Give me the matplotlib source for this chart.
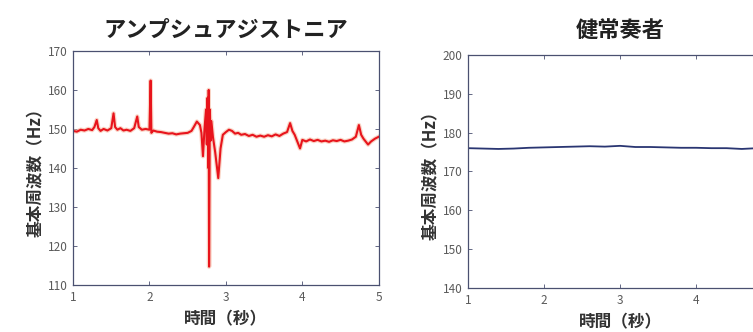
import matplotlib
matplotlib.use("Agg")
import matplotlib.pyplot as plt

plt.rcParams['font.family'] = ['Noto Sans CJK JP', 'DejaVu Sans']

# dystonia player: fundamental frequency over time
t_dys = [1.00, 1.05, 1.10, 1.15, 1.20, 1.25, 1.28, 1.31, 1.33, 1.36, 1.40, 1.45,
         1.50, 1.53, 1.55, 1.58, 1.62, 1.66, 1.70, 1.75, 1.80, 1.84, 1.86, 1.90,
         1.95, 2.00, 2.015, 2.025, 2.05, 2.10, 2.15, 2.20, 2.25, 2.30, 2.35, 2.40,
         2.45, 2.50, 2.55, 2.58, 2.62, 2.66, 2.68, 2.70, 2.72, 2.74, 2.75, 2.76,
         2.77, 2.775, 2.78, 2.79, 2.80, 2.81, 2.83, 2.86, 2.90, 2.93, 2.96, 3.00,
         3.04, 3.08, 3.12, 3.16, 3.20, 3.25, 3.30, 3.35, 3.40, 3.45, 3.50, 3.55,
         3.60, 3.65, 3.70, 3.75, 3.80, 3.84, 3.87, 3.90, 3.93, 3.97, 4.00, 4.05,
         4.10, 4.15, 4.20, 4.25, 4.30, 4.35, 4.40, 4.45, 4.50, 4.55, 4.60, 4.65,
         4.70, 4.74, 4.77, 4.80, 4.86, 4.90, 4.95, 5.00]
f_dys = [149.5, 149.3, 149.8, 149.6, 150.0, 149.7, 150.5, 152.3, 150.2, 149.5, 150.0, 149.6,
         150.2, 154.0, 150.5, 149.8, 150.2, 149.6, 149.8, 149.5, 150.2, 153.2, 150.5, 149.8,
         150.0, 149.8, 162.4, 149.0, 149.6, 149.3, 149.2, 149.0, 148.8, 148.9, 148.6, 148.8,
         148.9, 149.0, 149.5, 150.5, 151.9, 151.0, 149.0, 143.0, 150.0, 155.0, 146.0, 158.0,
         140.0, 160.0, 114.7, 155.0, 147.0, 152.0, 148.0, 144.0, 137.4, 145.0, 148.5, 149.2,
         149.8, 149.5, 148.8, 149.0, 148.5, 148.7, 148.2, 148.5, 148.0, 148.3, 148.0, 148.4,
         148.1, 148.6, 148.2, 148.8, 149.2, 151.5, 149.5, 148.5, 147.0, 145.0, 147.2, 146.8,
         147.3, 146.9, 147.2, 146.8, 147.0, 146.7, 147.1, 146.9, 147.2, 146.8, 147.0, 147.3,
         148.0, 151.0, 148.5, 147.5, 146.0, 146.8, 147.5, 148.0]

# healthy player
t_hea = [1.0, 1.2, 1.4, 1.6, 1.8, 2.0, 2.2, 2.4, 2.6, 2.8, 3.0, 3.2, 3.4, 3.6,
         3.8, 4.0, 4.2, 4.4, 4.6, 4.8, 5.0]
f_hea = [176.0, 175.9, 175.8, 175.9, 176.1, 176.2, 176.3, 176.4, 176.5, 176.4, 176.6,
         176.3, 176.3, 176.2, 176.1, 176.1, 176.0, 176.0, 175.8, 176.0, 176.1]

titles = ['アンプシュアジストニア', '健常奏者']
xlabel = '時間（秒）'
ylabel = '基本周波数（Hz）'
xticks_l = [1, 2, 3, 4, 5]
xticks_r = [1, 2, 3, 4]   # the 5 falls outside the picture
yticks_l = [110, 120, 130, 140, 150, 160, 170]
yticks_r = [140, 150, 160, 170, 180, 190, 200]

fig = plt.figure(figsize=(7.53, 3.32), dpi=100)
ax1 = fig.add_axes([0.097, 0.1416, 0.406, 0.705])
ax2 = fig.add_axes([0.6215, 0.1325, 0.404, 0.702])

ax1.plot(t_dys, f_dys, color='#f6b8a0', linewidth=3.2, alpha=0.6)
ax1.plot(t_dys, f_dys, color='#e8141c', linewidth=1.5)
ax1.set_ylim(110, 170)
ax1.set_yticks(yticks_l)
ax1.set_xticks(xticks_l)

ax2.plot(t_hea, f_hea, color='#2a3672', linewidth=1.3)
ax2.set_ylim(140, 200)
ax2.set_yticks(yticks_r)
ax2.set_xticks(xticks_r)

for ax, title, pad in zip([ax1, ax2], titles, [10, 13]):
    ax.set_xlim(1, 5)
    ax.tick_params(direction='in', top=True, right=True, length=3, width=0.6,
                   labelsize=8.5, labelcolor='#5a5a5a', color='#4a5070', pad=4)
    for s in ax.spines.values():
        s.set_color('#4a5070')
        s.set_linewidth(0.9)
    ax.set_title(title, fontsize=16, fontweight='bold', color='#222222', pad=pad)
    ax.set_xlabel(xlabel, fontsize=12, fontweight='bold', color='#333333', labelpad=5)
    ax.set_ylabel(ylabel, fontsize=12, fontweight='bold', color='#333333', labelpad=2)

fig.savefig('out.png', dpi=100)
